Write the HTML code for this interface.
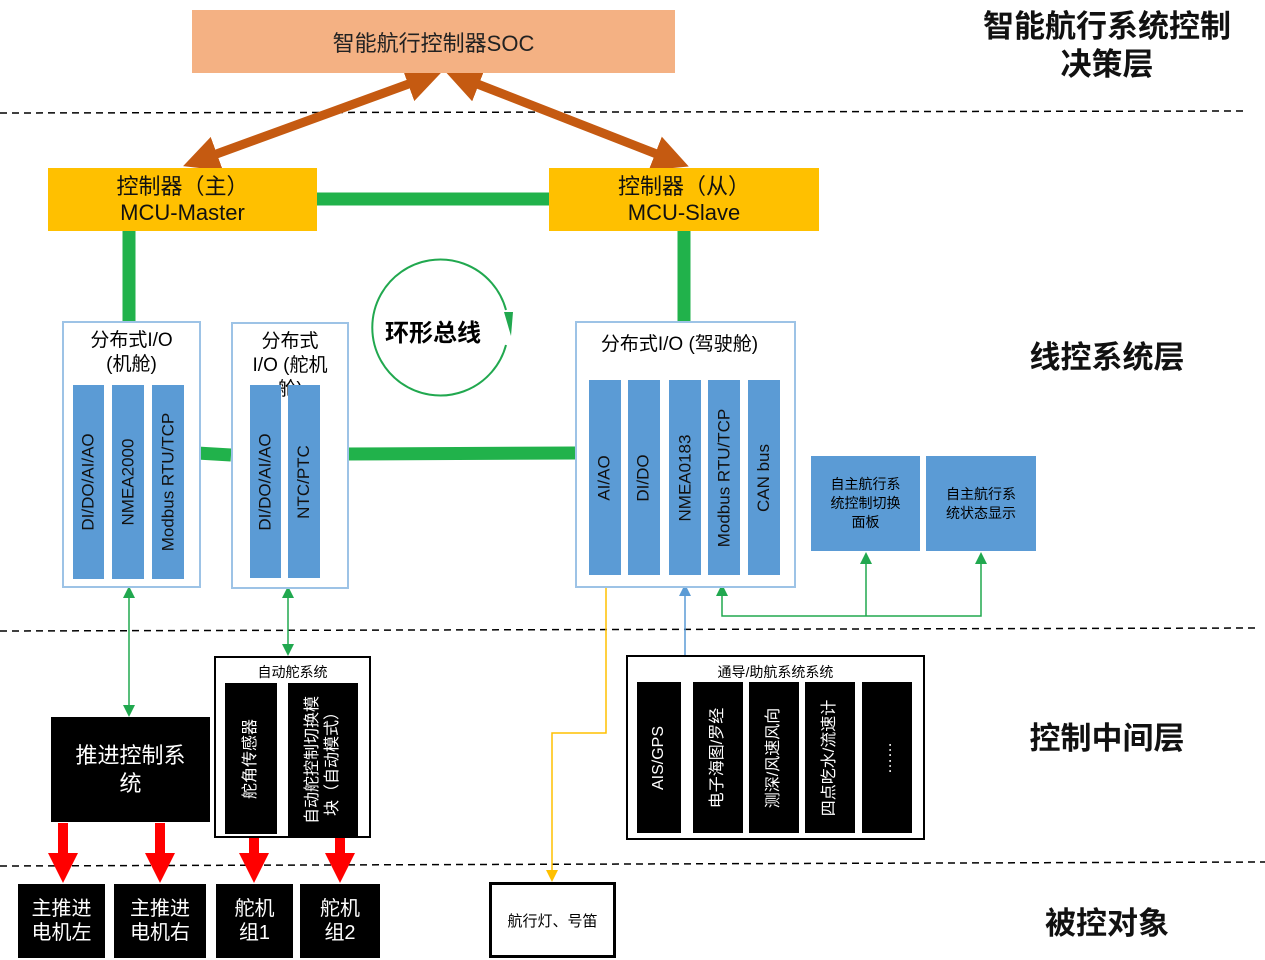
<!DOCTYPE html>
<html><head><meta charset="utf-8"><style>
body{margin:0;width:1265px;height:960px;background:#fff;position:relative;overflow:hidden;font-family:"Liberation Sans","Noto Sans CJK SC",sans-serif}
.a{position:absolute;box-sizing:border-box}
.c{display:flex;align-items:center;justify-content:center;text-align:center}
.bar{position:absolute;background:#5B9BD5;display:flex;align-items:center;justify-content:center}
.bar span{transform:rotate(-90deg);white-space:nowrap;font-size:17px;color:#111}
.blk{position:absolute;background:#000;display:flex;align-items:center;justify-content:center;color:#fff}
.blk span{transform:rotate(-90deg);white-space:nowrap;font-size:16px;line-height:20px;text-align:center}
.io{position:absolute;border:2px solid #9DC3E6;background:#fff}
.lbl{position:absolute;font-weight:bold;font-size:31px;color:#111;text-align:center;width:300px}
</style></head><body>
<svg class="a" style="left:0;top:0" width="1265" height="960">
<defs>
<marker id="g" markerWidth="8" markerHeight="8" refX="4" refY="4" orient="auto-start-reverse"><path d="M0,0L8,4L0,8z" fill="#21A84F"/></marker>
<marker id="b" markerWidth="8" markerHeight="8" refX="4" refY="4" orient="auto"><path d="M0,0L8,4L0,8z" fill="#5B9BD5"/></marker>
<marker id="y" markerWidth="8" markerHeight="8" refX="4" refY="4" orient="auto"><path d="M0,0L8,4L0,8z" fill="#FFC000"/></marker>
<marker id="o" markerWidth="4" markerHeight="4" refX="2" refY="2" orient="auto-start-reverse"><path d="M0,0L4,2L0,4z" fill="#C55A11"/></marker>
<marker id="r" markerWidth="3" markerHeight="3" refX="1.5" refY="1.5" orient="auto"><path d="M0,0L3,1.5L0,3z" fill="#F00"/></marker>
</defs>
<g stroke="#000" stroke-width="1.5" stroke-dasharray="7,5">
<line x1="0" y1="113" x2="1245" y2="111"/><line x1="0" y1="631" x2="1255" y2="628"/><line x1="0" y1="866" x2="1265" y2="862"/></g>
<g stroke="#21B24B" stroke-width="13" fill="none">
<line x1="317" y1="199" x2="549" y2="199"/><line x1="129" y1="231" x2="129" y2="321"/><line x1="684" y1="231" x2="684" y2="321"/>
<line x1="197" y1="453" x2="231" y2="455"/><line x1="345" y1="454" x2="575" y2="453"/></g>
<line x1="425" y1="78" x2="200" y2="160" stroke="#C55A11" stroke-width="9" marker-start="url(#o)" marker-end="url(#o)"/>
<line x1="462" y1="78" x2="672" y2="160" stroke="#C55A11" stroke-width="9" marker-start="url(#o)" marker-end="url(#o)"/>
<path d="M506,310 A68,68 0 1 0 506,345" fill="none" stroke="#21A84F" stroke-width="2"/>
<path d="M504,312 L513,312 L511,336 z" fill="#21A84F"/>
<g stroke="#21A84F" stroke-width="1.5" fill="none">
<line x1="129" y1="592" x2="129" y2="711" marker-start="url(#g)" marker-end="url(#g)"/>
<line x1="288" y1="592" x2="288" y2="650" marker-start="url(#g)" marker-end="url(#g)"/>
<path d="M722,590 V616 H981 V558" marker-start="url(#g)" marker-end="url(#g)"/>
<path d="M866,616 V558" marker-end="url(#g)"/></g>
<line x1="685" y1="655" x2="685" y2="590" stroke="#5B9BD5" stroke-width="1.5" marker-end="url(#b)"/>
<path d="M606,584 V733 H552 V876" stroke="#FFC000" stroke-width="1.5" fill="none" marker-end="url(#y)"/>
<g stroke="#F00" stroke-width="10">
<line x1="63" y1="823" x2="63" y2="868" marker-end="url(#r)"/><line x1="160" y1="823" x2="160" y2="868" marker-end="url(#r)"/>
<line x1="254" y1="838" x2="254" y2="868" marker-end="url(#r)"/><line x1="340" y1="838" x2="340" y2="868" marker-end="url(#r)"/></g>
</svg>
<div class="a c" style="left:192px;top:10px;width:483px;height:63px;background:#F4B183;font-size:22px;color:#222">智能航行控制器SOC</div>
<div class="a c" style="left:48px;top:168px;width:269px;height:63px;background:#FFC000;font-size:22px;line-height:26px;color:#111">控制器（主）<br>MCU-Master</div>
<div class="a c" style="left:549px;top:168px;width:270px;height:63px;background:#FFC000;font-size:22px;line-height:26px;color:#111">控制器（从）<br>MCU-Slave</div>
<div class="a" style="left:385px;top:313px;font-size:24px;font-weight:bold">环形总线</div>

<div class="io" style="left:62px;top:321px;width:135px;height:263px"><div style="text-align:center;font-size:19px;line-height:24px;margin-top:6px">分布式I/O<br>(机舱)</div></div>
<div class="bar" style="left:73px;top:385px;width:31px;height:194px"><span>DI/DO/AI/AO</span></div>
<div class="bar" style="left:112px;top:385px;width:32px;height:194px"><span>NMEA2000</span></div>
<div class="bar" style="left:152px;top:385px;width:32px;height:194px"><span>Modbus RTU/TCP</span></div>

<div class="io" style="left:231px;top:322px;width:114px;height:263px;overflow:hidden"><div style="text-align:center;font-size:19px;line-height:24px;margin-top:6px">分布式<br>I/O (舵机<br>舱)</div></div>
<div class="bar" style="left:250px;top:385px;width:31px;height:193px"><span>DI/DO/AI/AO</span></div>
<div class="bar" style="left:288px;top:385px;width:32px;height:193px"><span>NTC/PTC</span></div>

<div class="io" style="left:575px;top:321px;width:217px;height:263px"><div style="text-align:center;font-size:19px;margin-top:6px;margin-right:12px">分布式I/O (驾驶舱)</div></div>
<div class="bar" style="left:589px;top:380px;width:32px;height:195px"><span>AI/AO</span></div>
<div class="bar" style="left:628px;top:380px;width:32px;height:195px"><span>DI/DO</span></div>
<div class="bar" style="left:669px;top:380px;width:32px;height:195px"><span>NMEA0183</span></div>
<div class="bar" style="left:708px;top:380px;width:32px;height:195px"><span>Modbus RTU/TCP</span></div>
<div class="bar" style="left:748px;top:380px;width:32px;height:195px"><span>CAN bus</span></div>
<div class="a c" style="left:811px;top:456px;width:109px;height:95px;background:#5B9BD5;font-size:14px;line-height:19px">自主航行系<br>统控制切换<br>面板</div>
<div class="a c" style="left:926px;top:456px;width:110px;height:95px;background:#5B9BD5;font-size:14px;line-height:19px">自主航行系<br>统状态显示</div>

<div class="blk" style="left:51px;top:717px;width:159px;height:105px;font-size:22px;line-height:28px;text-align:center">推进控制系<br>统</div>
<div class="a" style="left:214px;top:656px;width:157px;height:182px;border:2px solid #000"><div style="text-align:center;font-size:14px;margin-top:4px">自动舵系统</div></div>
<div class="blk" style="left:225px;top:683px;width:52px;height:151px"><span>舵角传感器</span></div>
<div class="blk" style="left:288px;top:683px;width:70px;height:153px"><span>自动舵控制切换模<br>块（自动模式）</span></div>
<div class="a" style="left:626px;top:655px;width:299px;height:185px;border:2px solid #000"><div style="text-align:center;font-size:14px;margin-top:5px">通导/助航系统系统</div></div>
<div class="blk" style="left:637px;top:682px;width:44px;height:151px"><span>AIS/GPS</span></div>
<div class="blk" style="left:693px;top:682px;width:50px;height:151px"><span>电子海图/罗经</span></div>
<div class="blk" style="left:749px;top:682px;width:50px;height:151px"><span>测深/风速风向</span></div>
<div class="blk" style="left:805px;top:682px;width:50px;height:151px"><span>四点吃水/流速计</span></div>
<div class="blk" style="left:862px;top:682px;width:50px;height:151px"><span>……</span></div>

<div class="blk" style="left:18px;top:884px;width:87px;height:74px;font-size:20px;line-height:24px;text-align:center">主推进<br>电机左</div>
<div class="blk" style="left:114px;top:884px;width:92px;height:74px;font-size:20px;line-height:24px;text-align:center">主推进<br>电机右</div>
<div class="blk" style="left:216px;top:884px;width:77px;height:74px;font-size:20px;line-height:24px;text-align:center">舵机<br>组1</div>
<div class="blk" style="left:300px;top:884px;width:80px;height:74px;font-size:20px;line-height:24px;text-align:center">舵机<br>组2</div>
<div class="a c" style="left:489px;top:882px;width:127px;height:76px;border:3px solid #000;font-size:15px">航行灯、号笛</div>

<div class="lbl" style="left:957px;top:8px;line-height:38px">智能航行系统控制<br>决策层</div>
<div class="lbl" style="left:957px;top:332px">线控系统层</div>
<div class="lbl" style="left:957px;top:713px">控制中间层</div>
<div class="lbl" style="left:957px;top:898px">被控对象</div>
</body></html>
